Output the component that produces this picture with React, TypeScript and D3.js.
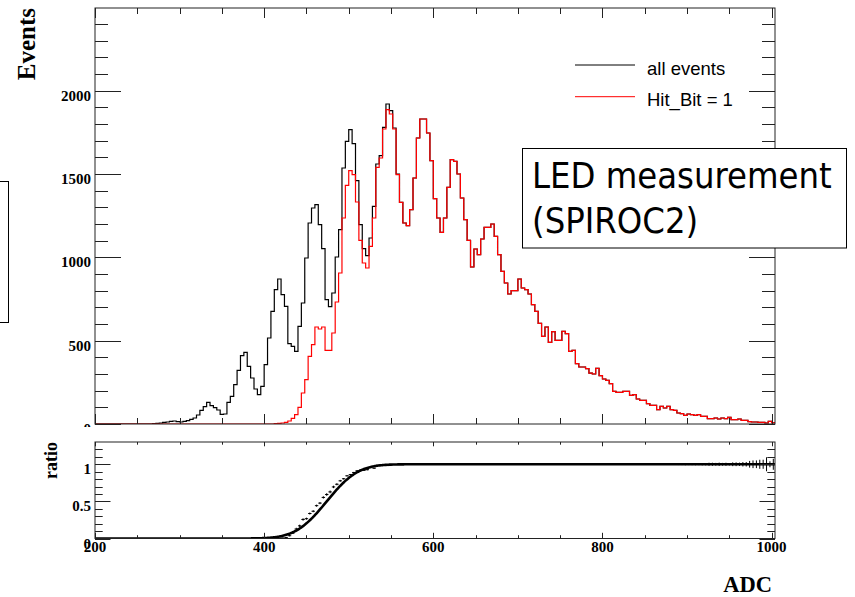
import React from "react";
import * as d3 from "d3";

// ADC histogram binning: first bin edge and bin width
const ADC_MIN = 200;
const BIN_WIDTH = 4;

// Counts per 4-ADC bin starting at ADC 200 (all events)
const allEvents = [
  0, 0, 0, 0, 0, 0, 0, 0, 0, 0,
  0, 0, 0, 0, 0, 0, 0, 2, 4, 6,
  10, 12, 16, 18, 14, 12, 16, 20, 28, 36,
  54, 82, 104, 130, 110, 98, 84, 58, 60, 130,
  166, 236, 322, 410, 430, 346, 276, 210, 176, 226,
  356, 516, 676, 806, 870, 776, 706, 482, 466, 436,
  586, 726, 996, 1206, 1296, 1316, 1196, 1052, 746, 704,
  786, 1002, 1166, 1536, 1696, 1766, 1682, 1460, 1196, 1052,
  1010, 1116, 1306, 1560, 1610, 1780, 1920, 1880, 1776, 1500,
  1330, 1206, 1190, 1286, 1476, 1716, 1830, 1830, 1746, 1580,
  1352, 1236, 1150, 1236, 1420, 1586, 1576, 1500, 1356, 1226,
  1102, 942, 1050, 1016, 1110, 1180, 1180, 1200, 1126, 1016,
  916, 846, 780, 800, 800, 870, 816, 806, 780, 716,
  676, 604, 526, 582, 490, 554, 502, 502, 556, 542,
  436, 442, 362, 342, 342, 332, 305, 300, 334, 290,
  270, 262, 242, 196, 190, 190, 196, 196, 172, 176,
  150, 142, 142, 122, 112, 112, 86, 106, 96, 106,
  86, 82, 66, 62, 52, 60, 56, 52, 56, 46,
  46, 32, 32, 36, 30, 36, 32, 40, 26, 26,
  30, 22, 22, 14, 12, 12, 10, 10, 6, 16,
  8,
];

// Counts per bin for events with Hit_Bit = 1
const hitBitEvents = [
  0, 0, 0, 0, 0, 0, 0, 0, 0, 0,
  0, 0, 0, 0, 0, 0, 0, 0, 0, 0,
  0, 0, 0, 0, 0, 0, 0, 0, 0, 0,
  0, 0, 0, 0, 0, 0, 0, 0, 0, 0,
  0, 0, 0, 0, 0, 0, 0, 0, 0, 0,
  0, 0, 0, 2, 4, 6, 10, 18, 34, 56,
  100, 186, 266, 406, 476, 582, 570, 582, 442, 442,
  546, 732, 906, 1236, 1432, 1520, 1496, 1332, 1102, 966,
  936, 1066, 1236, 1540, 1596, 1770, 1886, 1860, 1770, 1496,
  1330, 1206, 1190, 1286, 1476, 1716, 1830, 1830, 1746, 1580,
  1352, 1236, 1150, 1236, 1420, 1586, 1576, 1500, 1356, 1226,
  1102, 942, 1050, 1016, 1110, 1180, 1180, 1200, 1126, 1016,
  916, 846, 780, 800, 800, 870, 816, 806, 780, 716,
  676, 604, 526, 582, 490, 554, 502, 502, 556, 542,
  436, 442, 362, 342, 342, 332, 305, 300, 334, 290,
  270, 262, 242, 196, 190, 190, 196, 196, 172, 176,
  150, 142, 142, 122, 112, 112, 86, 106, 96, 106,
  86, 82, 66, 62, 52, 60, 56, 52, 56, 46,
  46, 32, 32, 36, 30, 36, 32, 40, 26, 26,
  30, 22, 22, 14, 12, 12, 10, 10, 6, 16,
  8,
];

// Axis labels
const eventTicks = [0, 500, 1000, 1500, 2000];
const ratioTicks = [0, 0.5, 1];
const ratioTickLabels = ["0", "0.5", "1"];
const adcTicks = [200, 400, 600, 800, 1000];

// Error-function fit of the efficiency turn-on
const FIT_MEAN = 474;
const FIT_SIGMA = 29;

const legendItems = [
  { label: "all events", color: "#000000" },
  { label: "Hit_Bit = 1", color: "#ff0000" },
];

function erf(z: number): number {
  const s = z < 0 ? -1 : 1;
  const a = Math.abs(z);
  const t = 1 / (1 + 0.3275911 * a);
  const y =
    1 -
    ((((1.061405429 * t - 1.453152027) * t + 1.421413741) * t - 0.284496736) * t + 0.254829592) *
      t *
      Math.exp(-a * a);
  return s * y;
}

const serif = "'Liberation Serif', 'Times New Roman', serif";
const sans = "'Liberation Sans', Arial, sans-serif";

export default function App() {
  const W = 855;
  const H = 597;
  const left = 95;
  const right = 775;
  const topY0 = 8;
  const topY1 = 424;
  const botY0 = 442;
  const botY1 = 538.5;

  const nBins = allEvents.length;
  const adcMax = ADC_MIN + BIN_WIDTH * nBins;

  const x = d3.scaleLinear().domain([ADC_MIN, adcMax]).range([left, right]);
  const yTop = d3.scaleLinear().domain([0, 2496]).range([topY1, topY0]);
  const yBot = d3.scaleLinear().domain([0, 1.3]).range([botY1, botY0]);

  const stepPath = (vals: number[]) => {
    const pts: [number, number][] = vals.map((v, i) => [ADC_MIN + i * BIN_WIDTH, v]);
    pts.push([adcMax, vals[vals.length - 1]]);
    return d3
      .line<[number, number]>()
      .x((d) => x(d[0]))
      .y((d) => yTop(d[1]))
      .curve(d3.curveStepAfter)(pts) as string;
  };

  // Ratio points with error bars
  const ratioPoints = allEvents
    .map((n, i) => {
      if (n <= 0) return null;
      const r = hitBitEvents[i] / n;
      const err = r > 0 ? Math.max(Math.sqrt((r * (1 - r)) / n), 1 - Math.pow(0.5, 1 / (n + 1))) : 0;
      return { c: ADC_MIN + (i + 0.5) * BIN_WIDTH, r, err };
    })
    .filter((d) => d !== null) as { c: number; r: number; err: number }[];

  const fitPts = d3.range(ADC_MIN, adcMax + 0.5, 1).map((a) => [
    a,
    0.5 * (1 + erf((a - FIT_MEAN) / (FIT_SIGMA * Math.SQRT2))),
  ]) as [number, number][];
  const fitPath = d3
    .line<[number, number]>()
    .x((d) => x(d[0]))
    .y((d) => yBot(d[1]))(fitPts) as string;

  const xMinor = d3.range(200, 1001, 50);
  const xMajor = d3.range(200, 1001, 200);
  const evMinor = d3.range(0, 2401, 100);
  const ratMinor = d3.range(0, 1.25, 0.1);

  const axisColor = "#222";

  return (
    <svg
      width={W}
      height={H}
      viewBox={`0 0 ${W} ${H}`}
      style={{ position: "absolute", left: 0, top: 0, background: "#fff" }}
    >
      <defs>
        <clipPath id="topPlot">
          <rect x={left} y={topY0} width={right - left} height={topY1 - topY0} />
        </clipPath>
        <clipPath id="topPad">
          <rect x={0} y={0} width={W} height={427} />
        </clipPath>
        <clipPath id="botPlot">
          <rect x={left} y={botY0} width={right - left + 1} height={botY1 - botY0} />
        </clipPath>
      </defs>
      <rect x={0} y={0} width={W} height={H} fill="#fff" />

      {/* partial box at the left page edge */}
      <rect x={-10} y={181.5} width={18.5} height={141} fill="none" stroke="#000" strokeWidth={1} />

      {/* ===== Upper panel: ADC spectra ===== */}
      <g clipPath="url(#topPlot)" fill="none" strokeWidth={1.2}>
        <path d={stepPath(allEvents)} stroke="#000" />
        <path d={stepPath(hitBitEvents)} stroke="#ff0000" />
      </g>

      <g stroke={axisColor} strokeWidth={1}>
        <rect x={left} y={topY0} width={right - left} height={topY1 - topY0} fill="none" />
        {evMinor.map((v) => {
          const yy = Math.round(yTop(v)) + 0.5;
          const len = v % 500 === 0 ? 26 : 13;
          return (
            <g key={`evt${v}`}>
              <line x1={left} x2={left + len} y1={yy} y2={yy} />
              <line x1={right} x2={right - len} y1={yy} y2={yy} />
            </g>
          );
        })}
        {xMinor.map((v) => {
          const xx = Math.round(x(v)) + 0.5;
          const len = v % 200 === 0 ? 10 : 6;
          return (
            <g key={`xt${v}`}>
              <line x1={xx} x2={xx} y1={topY0} y2={topY0 + len} />
              <line x1={xx} x2={xx} y1={topY1} y2={topY1 - len} />
            </g>
          );
        })}
      </g>

      <g clipPath="url(#topPad)" fontFamily={serif} fontWeight="bold" fontSize={15} textAnchor="end" fill="#000">
        {eventTicks.map((v) => (
          <text key={`evl${v}`} x={91} y={yTop(v) + 10}>
            {v}
          </text>
        ))}
      </g>

      <text
        transform="translate(35,8) rotate(-90)"
        textAnchor="end"
        fontFamily={serif}
        fontWeight="bold"
        fontSize={25}
        fill="#000"
      >
        Events
      </text>

      {/* legend */}
      {legendItems.map((d, i) => {
        const ly = i === 0 ? 65 : 96.7;
        return (
          <g key={d.label}>
            <line x1={575} x2={635} y1={ly} y2={ly} stroke={d.color} strokeWidth={1} />
            <text x={647} y={ly + 9.5} fontFamily={sans} fontSize={18.5} fill="#000">
              {d.label}
            </text>
          </g>
        );
      })}

      {/* annotation box */}
      <rect x={522.5} y={148.5} width={324} height={99.5} fill="#fff" stroke="#000" strokeWidth={1} />
      <text
        x={532}
        y={188}
        fontFamily="'DejaVu Sans', Verdana, sans-serif"
        fontStretch="condensed"
        fontSize={36}
        fill="#000"
      >
        LED measurement
      </text>
      <text
        x={532}
        y={233}
        fontFamily="'DejaVu Sans', Verdana, sans-serif"
        fontStretch="condensed"
        fontSize={36}
        fill="#000"
      >
        (SPIROC2)
      </text>

      {/* ===== Lower panel: ratio ===== */}
      <g clipPath="url(#botPlot)">
        <path d={fitPath} fill="none" stroke="#000" strokeWidth={2.6} />
        <g stroke="#000" strokeWidth={1}>
          {ratioPoints.map((p, i) => (
            <g key={`rp${i}`}>
              <line
                x1={x(p.c - BIN_WIDTH / 2)}
                x2={x(p.c + BIN_WIDTH / 2)}
                y1={yBot(p.r)}
                y2={yBot(p.r)}
              />
              {p.err > 0 && (
                <line x1={x(p.c)} x2={x(p.c)} y1={yBot(p.r - p.err)} y2={yBot(p.r + p.err)} />
              )}
            </g>
          ))}
        </g>
      </g>

      <g stroke={axisColor} strokeWidth={1}>
        <rect x={left} y={botY0} width={right - left} height={botY1 - botY0} fill="none" />
        {ratMinor.map((v, i) => {
          const yy = Math.round(yBot(v)) + 0.5;
          const len = i % 5 === 0 ? 15.5 : 7.7;
          return (
            <g key={`rt${i}`}>
              <line x1={left} x2={left + len} y1={yy} y2={yy} />
              <line x1={right} x2={right - len} y1={yy} y2={yy} />
            </g>
          );
        })}
        {xMinor.map((v) => {
          const xx = Math.round(x(v)) + 0.5;
          const major = v % 200 === 0;
          return (
            <g key={`bx${v}`}>
              <line x1={xx} x2={xx} y1={botY0} y2={botY0 + (major ? 4.3 : 2.7)} />
              <line x1={xx} x2={xx} y1={botY1} y2={botY1 - (major ? 5.7 : 3.3)} />
            </g>
          );
        })}
      </g>

      <g fontFamily={serif} fontWeight="bold" fontSize={15} fill="#000">
        {ratioTicks.map((v, i) => (
          <text key={`rl${v}`} x={91} y={yBot(v) + 10} textAnchor="end">
            {ratioTickLabels[i]}
          </text>
        ))}
        {adcTicks.map((v) => (
          <text key={`al${v}`} x={x(v)} y={551.5} textAnchor="middle">
            {v}
          </text>
        ))}
      </g>

      <text
        transform="translate(56.5,442) rotate(-90)"
        textAnchor="end"
        fontFamily={serif}
        fontWeight="bold"
        fontSize={18}
        fill="#000"
      >
        ratio
      </text>

      <text x={772} y={592} textAnchor="end" fontFamily={serif} fontWeight="bold" fontSize={22.5} fill="#000">
        ADC
      </text>
    </svg>
  );
}
